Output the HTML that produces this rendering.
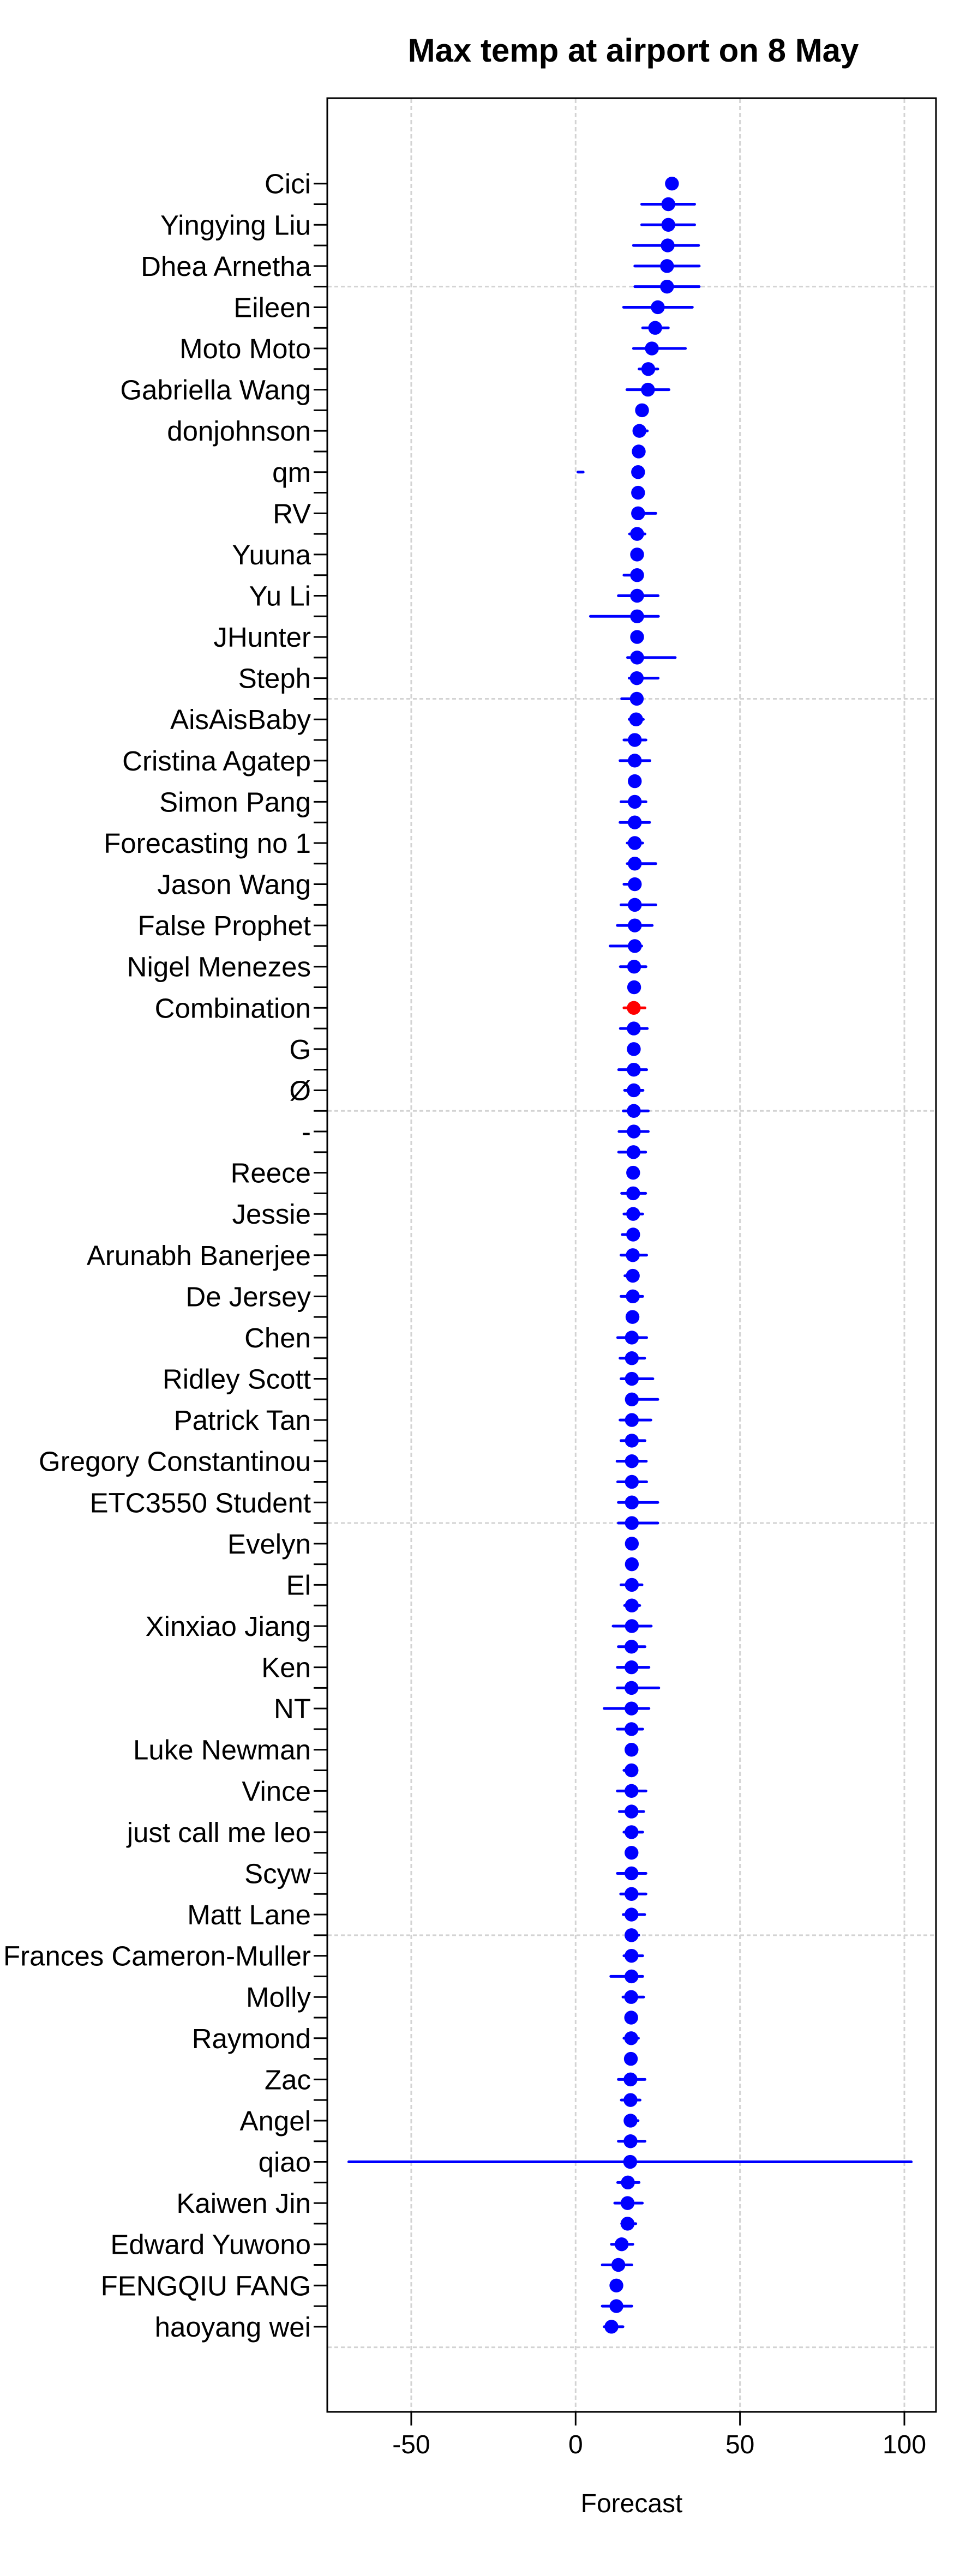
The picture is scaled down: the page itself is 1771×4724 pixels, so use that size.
<!DOCTYPE html>
<html>
<head>
<meta charset="utf-8">
<style>
html,body{margin:0;padding:0;background:#fff;}
svg{display:block;font-family:"Liberation Sans","DejaVu Sans",sans-serif;}
</style>
</head>
<body>
<svg id="chart" width="1771" height="4724" viewBox="0 0 1771 4724" xmlns="http://www.w3.org/2000/svg">
<rect x="0" y="0" width="1771" height="4724" fill="#fff"/>
<text x="1161" y="113" text-anchor="middle" font-size="60" font-weight="bold">Max temp at airport on 8 May</text>
<g id="grid"></g>
<g id="marks"></g>
<rect x="600" y="180" width="1116" height="4243" fill="none" stroke="#000" stroke-width="3"/>
<g id="yaxis"></g>
<g id="xaxis"></g>
<text x="1158" y="4607" text-anchor="middle" font-size="48">Forecast</text>
</svg>
<script>
const names = ["Cici","Yingying Liu","Dhea Arnetha","Eileen","Moto Moto","Gabriella Wang","donjohnson","qm","RV","Yuuna","Yu Li","JHunter","Steph","AisAisBaby","Cristina Agatep","Simon Pang","Forecasting no 1","Jason Wang","False Prophet","Nigel Menezes","Combination","G","Ø","-","Reece","Jessie","Arunabh Banerjee","De Jersey","Chen","Ridley Scott","Patrick Tan","Gregory Constantinou","ETC3550 Student","Evelyn","El","Xinxiao Jiang","Ken","NT","Luke Newman","Vince","just call me leo","Scyw","Matt Lane","Frances Cameron-Muller","Molly","Raymond","Zac","Angel","qiao","Kaiwen Jin","Edward Yuwono","FENGQIU FANG","haoyang wei"];
const points = [29.3,28.2,28.2,28.0,27.8,27.8,25.0,24.2,23.2,22.1,22.0,20.2,19.4,19.2,19.0,19.0,19.0,18.7,18.7,18.7,18.7,18.7,18.7,18.7,18.6,18.6,18.4,18.0,18.0,18.0,18.0,18.0,18.0,18.0,18.0,18.0,18.0,18.0,17.8,17.8,17.7,17.7,17.7,17.7,17.7,17.7,17.7,17.6,17.5,17.5,17.5,17.5,17.4,17.4,17.4,17.3,17.1,17.1,17.1,17.1,17.1,17.1,17.1,17.1,17.1,17.1,17.1,17.1,17.1,17.1,17.1,17.0,17.0,17.0,17.0,17.0,17.0,17.0,17.0,17.0,17.0,17.0,17.0,17.0,17.0,17.0,17.0,17.0,16.9,16.9,16.9,16.8,16.7,16.7,16.7,16.7,16.6,15.9,15.8,15.8,14.0,13.0,12.4,12.4,10.9];
const lower = [null,20.1,20.1,17.6,18.0,18.0,14.6,20.4,17.6,19.3,15.6,null,19.4,null,0.7,null,19.0,16.4,null,14.7,13.0,4.5,null,15.8,16.3,14.0,16.3,14.7,13.5,null,13.8,13.5,15.7,15.7,14.7,13.8,12.7,10.5,13.6,null,14.7,13.6,null,13.1,14.9,14.5,13.2,13.1,null,14.0,14.7,14.2,13.8,15.0,13.8,null,12.8,13.5,13.8,17.1,13.5,13.8,12.6,12.8,13.0,13.0,null,null,13.8,14.9,11.4,13.0,12.7,12.7,8.7,12.7,null,14.7,12.7,13.3,14.7,null,12.7,13.7,14.5,17.0,14.7,10.7,14.4,null,14.7,null,13.0,13.9,16.7,13.0,-69,12.8,11.9,14.0,10.9,8.1,null,8.1,8.7];
const upper = [null,36.2,36.2,37.4,37.6,37.6,35.5,28.2,33.4,25.0,28.4,null,21.8,null,2.3,null,24.4,21.1,null,18.7,25.1,25.2,null,30.3,25.1,18.6,20.6,21.4,22.6,null,21.4,22.5,20.4,24.4,18.0,24.4,23.3,20.1,21.4,null,21.1,21.8,null,21.6,20.5,22.1,22.1,21.3,null,21.3,20.4,17.5,21.6,17.4,20.4,null,21.6,21.0,23.5,25.0,22.9,21.1,21.5,21.6,25.0,25.0,null,null,20.2,19.5,23.0,21.1,22.3,25.3,22.3,20.4,null,17.0,21.4,20.7,20.4,null,21.4,21.4,21.0,19.2,20.4,20.4,20.7,null,19.1,null,21.1,19.6,19.0,21.1,102.1,19.3,20.3,18.3,17.4,17.1,null,17.1,14.4];
const xTicks = [-50,0,50,100];
const gridRows = [5,25,45,65,85,105];
const highlightRow = 40;

const NS = "http://www.w3.org/2000/svg";
const X0 = 1055.3, XS = 6.027;
const Y0 = 336.7, YS = 37.79;
function xPos(v){ return X0 + v*XS; }
function yPos(r){ return Y0 + r*YS; }
function mk(tag, attrs, parent){
  const e = document.createElementNS(NS, tag);
  for (const k in attrs) e.setAttribute(k, attrs[k]);
  parent.appendChild(e);
  return e;
}
const grid = document.getElementById('grid');
const marks = document.getElementById('marks');
const yaxis = document.getElementById('yaxis');
const xaxis = document.getElementById('xaxis');

xTicks.forEach(function(t){
  const l = mk('line', {x1:xPos(t), x2:xPos(t), y1:181, y2:4422, stroke:'#d3d3d3', 'stroke-width':3, 'stroke-dasharray':'8 5'}, grid);
  
  
  const tk = mk('line', {x1:xPos(t), x2:xPos(t), y1:4423, y2:4448, stroke:'#000', 'stroke-width':3}, xaxis);
  
  
  const tx = mk('text', {x:xPos(t), y:4499, 'text-anchor':'middle', 'font-size':48}, xaxis);
  tx.textContent = String(t);
  
  
});
gridRows.forEach(function(r){
  const l = mk('line', {x1:601, x2:1715, y1:yPos(r), y2:yPos(r), stroke:'#d3d3d3', 'stroke-width':3, 'stroke-dasharray':'7 5'}, grid);
  
  
});
for (let r = 0; r < points.length; r++){
  const y = yPos(r);
  const tk = mk('line', {x1:575, x2:600, y1:y, y2:y, stroke:'#000', 'stroke-width':3}, yaxis);
  
  
  const col = (r === highlightRow) ? '#ff0000' : '#0000ff';
  if (lower[r] !== null && upper[r] !== null && upper[r] > lower[r]){
    const s = mk('line', {x1:xPos(lower[r]), x2:xPos(upper[r]), y1:y, y2:y, stroke:col, 'stroke-width':5, 'stroke-linecap':'round'}, marks);
    
    
  }
  const c = mk('circle', {cx:xPos(points[r]), cy:y, r:12.7, fill:col}, marks);
  
  
}
names.forEach(function(n, i){
  const t = mk('text', {x:570, y:yPos(i*2)+18, 'text-anchor':'end', 'font-size':51}, yaxis);
  t.textContent = n;
  
  
});
</script>
</body>
</html>
